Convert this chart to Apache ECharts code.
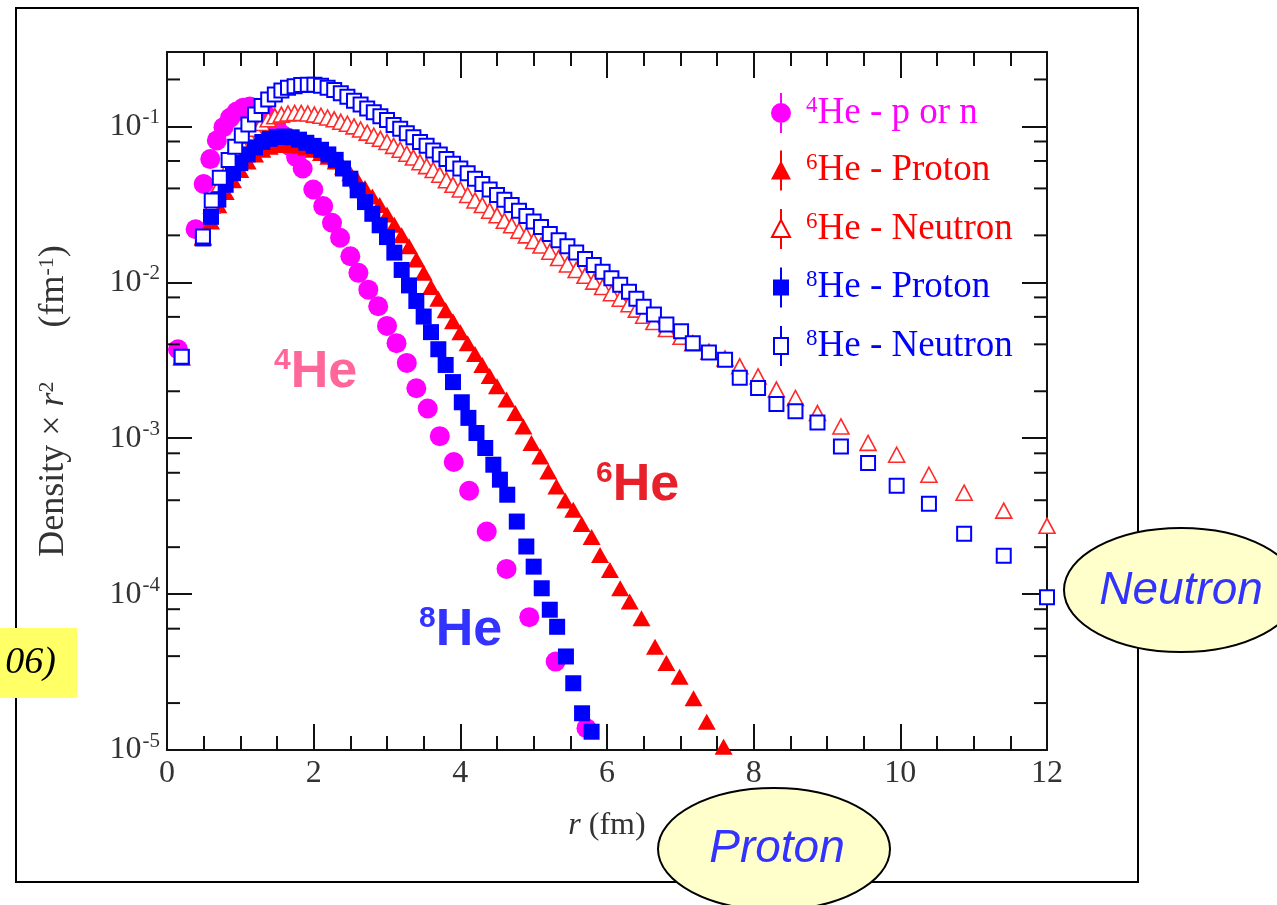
<!DOCTYPE html>
<html>
<head>
<meta charset="utf-8">
<script src="https://cdn.jsdelivr.net/npm/echarts@6/dist/echarts.min.js"></script>
<style>
html,body{margin:0;padding:0;background:#fff;}
#c{width:1277px;height:905px;}
</style>
</head>
<body>
<div id="c"></div>
<script>
// ---------- DATA (r in fm, density*r^2 in fm^-1) ----------
const seriesNames = ['4He - p or n', '6He - Proton', '6He - Neutron', '8He - Proton', '8He - Neutron'];

const he4_r = [0.15,0.39,0.50,0.59,0.68,0.77,0.86,0.95,1.04,1.13,1.22,1.31,1.40,1.49,1.58,1.67,1.76,1.85,1.995,2.13,2.25,2.36,2.50,2.61,2.745,2.88,3.00,3.13,3.27,3.40,3.555,3.72,3.91,4.12,4.36,4.63,4.94,5.30,5.72];
const he4_y = [3.72e-3,0.0219,0.0427,0.0617,0.0813,0.0989,0.1135,0.1245,0.1318,0.1343,0.1318,0.1245,0.1135,0.1012,0.0881,0.0750,0.0638,0.0537,0.0394,0.0308,0.0241,0.0193,0.0147,0.0115,8.97e-3,7.02e-3,5.25e-3,4.07e-3,3.04e-3,2.09e-3,1.55e-3,1.03e-3,7.03e-4,4.60e-4,2.52e-4,1.45e-4,7.11e-5,3.69e-5,1.38e-5];

const he6p_r = [0.2,0.49,0.6,0.7,0.8,0.9,1.0,1.1,1.2,1.3,1.4,1.5,1.6,1.7,1.8,1.9,2.0,2.1,2.2,2.3,2.4,2.5,2.6,2.7,2.8,2.9,3.0,3.1,3.2,3.3,3.4,3.5,3.6,3.7,3.8,3.9,4.0,4.1,4.2,4.3,4.4,4.50,4.63,4.75,4.86,4.97,5.09,5.20,5.31,5.43,5.54,5.655,5.79,5.905,6.04,6.18,6.31,6.47,6.655,6.81,6.99,7.18,7.36,7.59];
const he6p_y = [3.3e-3,0.0192,0.0245,0.0312,0.0380,0.0452,0.0525,0.0596,0.0661,0.0708,0.0741,0.0759,0.0762,0.0759,0.0750,0.0733,0.0708,0.0676,0.0638,0.0596,0.0550,0.0501,0.0452,0.0403,0.0355,0.0313,0.0272,0.0234,0.0200,0.0170,0.0140,0.0115,9.33e-3,7.85e-3,6.61e-3,5.62e-3,4.79e-3,4.07e-3,3.47e-3,2.95e-3,2.51e-3,2.15e-3,1.77e-3,1.45e-3,1.19e-3,9.33e-4,7.64e-4,6.12e-4,4.90e-4,3.98e-4,3.47e-4,2.82e-4,2.32e-4,1.78e-4,1.43e-4,1.09e-4,8.97e-5,7.01e-5,4.60e-5,3.61e-5,2.95e-5,2.15e-5,1.52e-5,1.05e-5];

const neut_r = [0.2,0.49,0.61,0.72,0.84,0.93,1.02,1.11,1.20,1.29,1.38,1.47,1.56,1.65,1.74,1.83,1.92,2.01,2.10,2.19,2.28,2.37,2.46,2.55,2.64,2.73,2.82,2.91,3.00,3.09,3.18,3.27,3.36,3.45,3.54,3.63,3.72,3.81,3.90,4.0,4.1,4.2,4.3,4.4,4.5,4.6,4.7,4.8,4.9,5.0,5.1,5.22,5.34,5.46,5.58,5.70,5.82,5.94,6.06,6.18,6.30,6.40,6.50,6.64,6.81,7.01,7.17,7.39,7.61,7.81,8.06,8.31,8.57,8.87,9.19,9.56,9.95,10.39,10.87,11.41,12.0];
const he6n_y = [3.3e-3,0.0195,0.0310,0.0425,0.0555,0.0661,0.0767,0.0871,0.0966,0.105,0.111,0.116,0.119,0.121,0.122,0.122,0.121,0.119,0.117,0.114,0.111,0.107,0.104,0.100,0.0955,0.0912,0.0871,0.0832,0.0794,0.0750,0.0708,0.0668,0.0631,0.0589,0.0556,0.0525,0.0490,0.0452,0.0422,0.0394,0.0363,0.0335,0.0313,0.0288,0.0269,0.0248,0.0232,0.0214,0.0200,0.0184,0.0172,0.0157,0.0143,0.0130,0.0120,0.0110,0.0101,9.33e-3,8.51e-3,7.85e-3,7.24e-3,6.68e-3,6.10e-3,5.56e-3,5.01e-3,4.47e-3,4.07e-3,3.59e-3,3.24e-3,2.89e-3,2.49e-3,2.05e-3,1.81e-3,1.45e-3,1.19e-3,9.33e-4,7.83e-4,5.83e-4,4.47e-4,3.43e-4,2.74e-4];
const he8n_y = [3.33e-3,0.0197,0.0335,0.0468,0.0608,0.0741,0.0875,0.103,0.119,0.135,0.149,0.160,0.170,0.177,0.181,0.184,0.185,0.185,0.182,0.177,0.171,0.163,0.155,0.146,0.138,0.130,0.123,0.116,0.110,0.102,0.0966,0.0902,0.0851,0.0794,0.0750,0.0700,0.0661,0.0617,0.0575,0.0537,0.0501,0.0462,0.0427,0.0394,0.0363,0.0339,0.0313,0.0288,0.0266,0.0245,0.0226,0.0204,0.0186,0.0170,0.0155,0.0141,0.0129,0.0117,0.0106,9.66e-3,8.71e-3,7.85e-3,6.98e-3,6.21e-3,5.37e-3,4.85e-3,4.07e-3,3.55e-3,3.19e-3,2.44e-3,2.10e-3,1.66e-3,1.49e-3,1.26e-3,8.85e-4,6.92e-4,4.95e-4,3.80e-4,2.44e-4,1.76e-4,9.55e-5];

const he8p_r = [0.2,0.49,0.6,0.7,0.8,0.9,1.0,1.1,1.2,1.3,1.4,1.5,1.6,1.7,1.8,1.9,2.0,2.1,2.2,2.3,2.4,2.5,2.6,2.7,2.8,2.9,3.0,3.1,3.2,3.3,3.4,3.5,3.6,3.7,3.8,3.9,4.02,4.11,4.22,4.34,4.45,4.54,4.64,4.77,4.90,5.00,5.11,5.22,5.32,5.44,5.54,5.66,5.79];
const he8p_y = [3.31e-3,0.0191,0.0263,0.0339,0.0422,0.0501,0.0582,0.0661,0.0733,0.0794,0.0832,0.0855,0.0861,0.0851,0.0822,0.0785,0.0750,0.0708,0.0661,0.0610,0.0537,0.0462,0.0389,0.0327,0.0275,0.0232,0.0195,0.0155,0.0120,9.55e-3,7.59e-3,6.03e-3,4.79e-3,3.72e-3,2.95e-3,2.29e-3,1.70e-3,1.35e-3,1.08e-3,8.65e-4,6.76e-4,5.42e-4,4.34e-4,2.92e-4,2.02e-4,1.50e-4,1.09e-4,7.94e-5,6.17e-5,3.98e-5,2.68e-5,1.72e-5,1.31e-5];

const xTicks = [0,2,4,6,8,10,12];
const yMinorTicks = [2e-5,4e-5,6e-5,8e-5,2e-4,4e-4,6e-4,8e-4,2e-3,4e-3,6e-3,8e-3,2e-2,4e-2,6e-2,8e-2,2e-1];

// ---------- CHART ----------
const zip = (xs, ys) => xs.map((x, i) => [x, ys[i]]);
const SERIF = 'Liberation Serif, Times New Roman, serif';
const SANS = 'Liberation Sans, Arial, sans-serif';
const MAG = '#ff00ff', RED = '#ff0000', BLUE = '#0000ff';

const chart = echarts.init(document.getElementById('c'), null, {renderer: 'canvas'});

const yLabelFmt = v => {
  const e = Math.log10(v), r = Math.round(e);
  if (Math.abs(e - r) > 1e-6) return '';
  return '{b|10}{e|' + r + '}';
};
const yRich = {
  b: {fontFamily: SERIF, fontSize: 32, color: '#333', lineHeight: 34},
  e: {fontFamily: SERIF, fontSize: 21, color: '#333', lineHeight: 20, padding: [0, 0, 18, 1]}
};

const axisLineStyle = {color: '#111', width: 2};
const tickStyle = {color: '#111', width: 2};

const legendIcons = [
  'path://M9,0L11,0L11,40L9,40Z M10,10A10,10,0,1,1,10,30A10,10,0,1,1,10,10Z',
  'path://M9,0L11,0L11,40L9,40Z M10,10L20,29L0,29Z',
  'path://M10,0L10,11 M10,11L19,28L1,28Z M10,28L10,40',
  'path://M9,0L11,0L11,40L9,40Z M2,12L18,12L18,28L2,28Z',
  'path://M10,0L10,12 M3,12L17,12L17,28L3,28Z M10,28L10,40'
];
const legendStyles = [
  {color: MAG, borderWidth: 0},
  {color: RED, borderWidth: 0},
  {color: '#fff', borderColor: RED, borderWidth: 2},
  {color: BLUE, borderWidth: 0},
  {color: '#fff', borderColor: BLUE, borderWidth: 2}
];
const legendColors = [MAG, RED, RED, BLUE, BLUE];

const option = {
  animation: false,
  backgroundColor: '#fff',
  grid: {left: 167, right: 230, top: 52, bottom: 155, containLabel: false},
  legend: {
    orient: 'vertical',
    left: 766, top: 88,
    itemWidth: 40, itemHeight: 40, itemGap: 17.5,
    selectedMode: false,
    data: seriesNames.map((n, i) => ({
      name: n, icon: legendIcons[i], itemStyle: legendStyles[i],
      textStyle: {color: legendColors[i]}
    })),
    formatter: n => '{s|' + n[0] + '}{t|' + n.slice(1) + '}',
    textStyle: {
      fontFamily: SERIF, fontSize: 37,
      rich: {
        s: {fontFamily: SERIF, fontSize: 23, verticalAlign: 'top', lineHeight: 22},
        t: {fontFamily: SERIF, fontSize: 37, lineHeight: 38}
      }
    }
  },
  xAxis: [{
    type: 'value', min: 0, max: 12, interval: 2, position: 'bottom',
    axisLine: {show: true, onZero: false, lineStyle: axisLineStyle},
    axisTick: {show: true, inside: true, length: 26, lineStyle: tickStyle},
    minorTick: {show: true, splitNumber: 4, length: 14, lineStyle: tickStyle},
    splitLine: {show: false},
    axisLabel: {fontFamily: SERIF, fontSize: 32, color: '#333', margin: 8,
      formatter: v => xTicks.indexOf(v) >= 0 ? String(v) : ''},
    name: '{i|r}{n| (fm)}', nameLocation: 'middle', nameGap: 60,
    nameTextStyle: {rich: {
      i: {fontFamily: SERIF, fontSize: 32, fontStyle: 'italic', color: '#333'},
      n: {fontFamily: SERIF, fontSize: 32, color: '#333'}
    }}
  }, {
    type: 'value', min: 0, max: 12, interval: 2, position: 'top',
    axisLine: {show: true, onZero: false, lineStyle: axisLineStyle},
    axisTick: {show: true, inside: true, length: 26, lineStyle: tickStyle},
    minorTick: {show: true, splitNumber: 4, length: 14, lineStyle: tickStyle},
    splitLine: {show: false},
    axisLabel: {show: false}
  }],
  yAxis: [{
    type: 'log', logBase: 10, min: 1e-5, max: 0.3, position: 'left',
    axisLine: {show: true, onZero: false, lineStyle: axisLineStyle},
    axisTick: {show: true, inside: true, length: 25, lineStyle: tickStyle},
    splitLine: {show: false},
    axisLabel: {formatter: yLabelFmt, rich: yRich, margin: 7},
    name: '{n|Density × }{i|r}{s|2}{n|      (fm}{s|-1}{n|)}',
    nameLocation: 'middle', nameGap: 95,
    nameTextStyle: {rich: {
      n: {fontFamily: SERIF, fontSize: 36, color: '#333', lineHeight: 36},
      i: {fontFamily: SERIF, fontSize: 36, fontStyle: 'italic', color: '#333', lineHeight: 36},
      s: {fontFamily: SERIF, fontSize: 22, color: '#333', verticalAlign: 'top', lineHeight: 20}
    }}
  }, {
    type: 'log', logBase: 10, min: 1e-5, max: 0.3, position: 'right',
    axisLine: {show: true, onZero: false, lineStyle: axisLineStyle},
    axisTick: {show: true, inside: true, length: 25, lineStyle: tickStyle},
    splitLine: {show: false},
    axisLabel: {show: false}
  }],
  series: [
    {
      name: seriesNames[0], type: 'scatter', data: zip(he4_r, he4_y),
      symbol: 'circle', symbolSize: 20, itemStyle: {color: MAG, opacity: 1}, z: 3
    },
    {
      name: seriesNames[1], type: 'scatter', data: zip(he6p_r, he6p_y),
      symbol: 'triangle', symbolSize: [18, 16], itemStyle: {color: RED, opacity: 1}, z: 4
    },
    {
      name: seriesNames[2], type: 'scatter', data: zip(neut_r, he6n_y),
      symbol: 'triangle', symbolSize: [16, 15],
      itemStyle: {color: '#fff', borderColor: '#ff2a2a', borderWidth: 1.6, opacity: 1}, z: 5
    },
    {
      name: seriesNames[3], type: 'scatter', data: zip(he8p_r, he8p_y),
      symbol: 'rect', symbolSize: 16, itemStyle: {color: BLUE, opacity: 1}, z: 6
    },
    {
      name: seriesNames[4], type: 'scatter', data: zip(neut_r, he8n_y),
      symbol: 'rect', symbolSize: 14,
      itemStyle: {color: '#fff', borderColor: BLUE, borderWidth: 2, opacity: 1}, z: 7
    },
    {
      type: 'custom', name: 'minorTicks', silent: true, clip: false, z: 10,
      data: yMinorTicks.map(v => [0, v]),
      renderItem: (params, api) => {
        const v = api.value(1);
        const p = api.coord([0, v]);
        const q = api.coord([12, v]);
        const st = {stroke: '#111', lineWidth: 2};
        return {type: 'group', children: [
          {type: 'line', shape: {x1: p[0], y1: p[1], x2: p[0] + 13, y2: p[1]}, style: st},
          {type: 'line', shape: {x1: q[0] - 13, y1: q[1], x2: q[0], y2: q[1]}, style: st}
        ]};
      }
    }
  ],
  graphic: [
    {type: 'rect', z: -10, shape: {x: 16, y: 8, width: 1122, height: 874},
      style: {fill: 'none', stroke: '#000', lineWidth: 2}},
    {type: 'rect', z: 50, shape: {x: -5, y: 628, width: 82, height: 70},
      style: {fill: '#ffff66', stroke: 'none'}},
    {type: 'text', z: 51, style: {text: '06)', x: 56, y: 663, align: 'right', verticalAlign: 'middle',
      fontFamily: SERIF, fontStyle: 'italic', fontSize: 38, fill: '#000'}},
    {type: 'ellipse', z: 60, shape: {cx: 774, cy: 849, rx: 116, ry: 61},
      style: {fill: '#ffffcc', stroke: '#000', lineWidth: 2}},
    {type: 'text', z: 61, style: {text: 'Proton', x: 777, y: 849, align: 'center', verticalAlign: 'middle',
      fontFamily: SANS, fontStyle: 'italic', fontSize: 46, fill: '#3333ff'}},
    {type: 'ellipse', z: 60, shape: {cx: 1181, cy: 590, rx: 117, ry: 62},
      style: {fill: '#ffffcc', stroke: '#000', lineWidth: 2}},
    {type: 'text', z: 61, style: {text: 'Neutron', x: 1181, y: 591, align: 'center', verticalAlign: 'middle',
      fontFamily: SANS, fontStyle: 'italic', fontSize: 46, fill: '#3333ff'}},
    {type: 'text', z: 40, style: {text: '{s|4}{h|He}', x: 274, y: 346, align: 'left', verticalAlign: 'top',
      fill: '#ff6699', rich: {
        s: {fontFamily: SANS, fontWeight: 'bold', fontSize: 30, verticalAlign: 'top', lineHeight: 30, fill: '#ff6699'},
        h: {fontFamily: SANS, fontWeight: 'bold', fontSize: 52, lineHeight: 54, fill: '#ff6699'}}}},
    {type: 'text', z: 40, style: {text: '{s|6}{h|He}', x: 596, y: 459, align: 'left', verticalAlign: 'top',
      fill: '#e8202a', rich: {
        s: {fontFamily: SANS, fontWeight: 'bold', fontSize: 30, verticalAlign: 'top', lineHeight: 30, fill: '#e8202a'},
        h: {fontFamily: SANS, fontWeight: 'bold', fontSize: 52, lineHeight: 54, fill: '#e8202a'}}}},
    {type: 'text', z: 40, style: {text: '{s|8}{h|He}', x: 419, y: 604, align: 'left', verticalAlign: 'top',
      fill: '#3333ff', rich: {
        s: {fontFamily: SANS, fontWeight: 'bold', fontSize: 30, verticalAlign: 'top', lineHeight: 30, fill: '#3333ff'},
        h: {fontFamily: SANS, fontWeight: 'bold', fontSize: 52, lineHeight: 54, fill: '#3333ff'}}}}
  ]
};
chart.setOption(option);
</script>
</body>
</html>
